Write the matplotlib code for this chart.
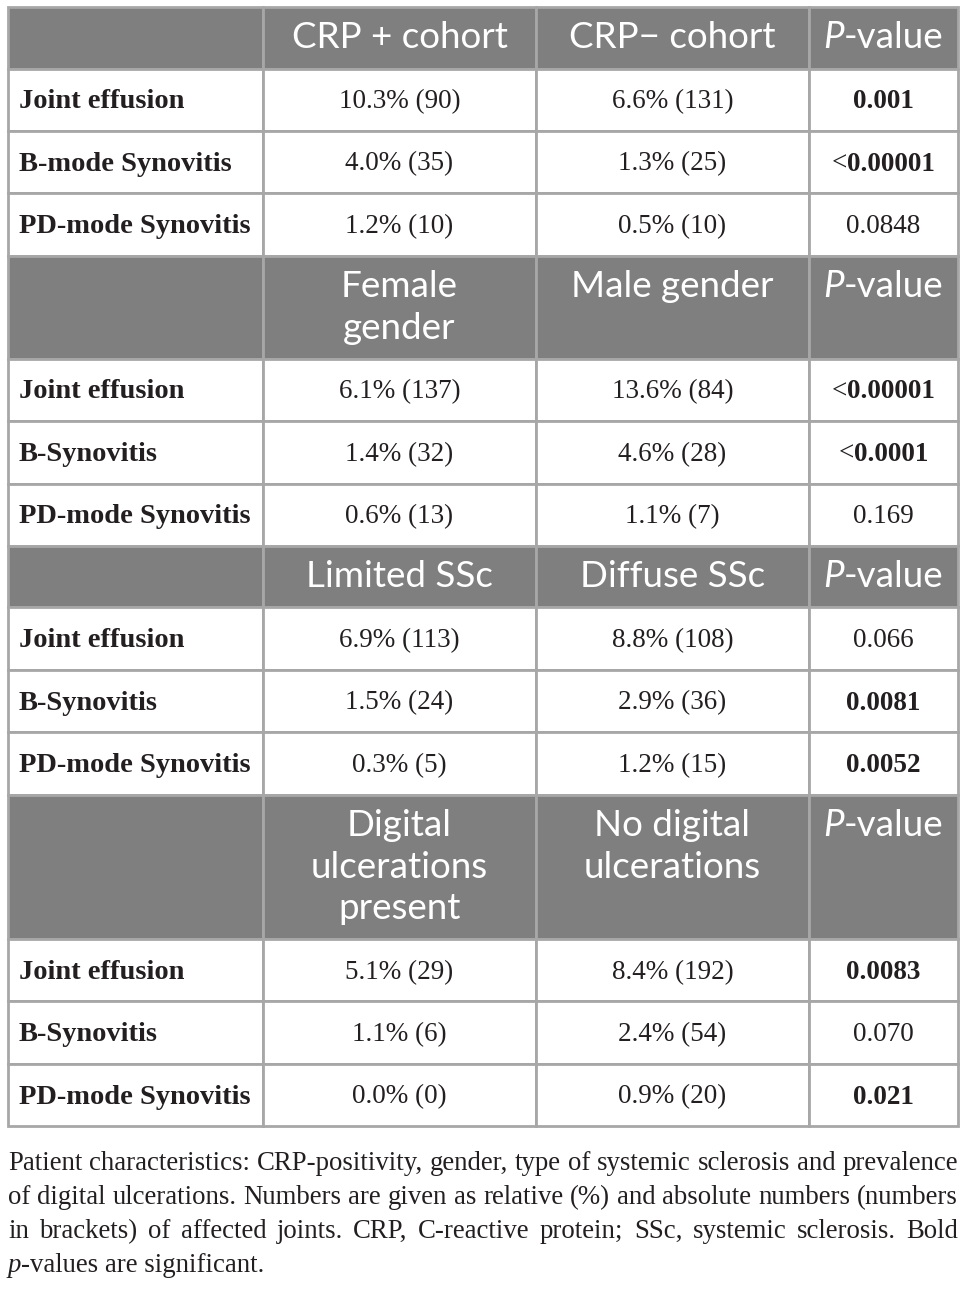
import matplotlib
matplotlib.use("Agg")
import matplotlib.pyplot as plt
import matplotlib.patches

# ---- table content ----
group_headers = [["CRP + cohort", "CRP\u2212 cohort"],
                 ["Female\ngender", "Male gender"],
                 ["Limited SSc", "Diffuse SSc"],
                 ["Digital\nulcerations\npresent", "No digital\nulcerations"]]
row_labels = [["Joint effusion", "B-mode Synovitis", "PD-mode Synovitis"],
              ["Joint effusion", "B-Synovitis", "PD-mode Synovitis"],
              ["Joint effusion", "B-Synovitis", "PD-mode Synovitis"],
              ["Joint effusion", "B-Synovitis", "PD-mode Synovitis"]]
col1_values = [["10.3% (90)", "4.0% (35)", "1.2% (10)"],
               ["6.1% (137)", "1.4% (32)", "0.6% (13)"],
               ["6.9% (113)", "1.5% (24)", "0.3% (5)"],
               ["5.1% (29)", "1.1% (6)", "0.0% (0)"]]
col2_values = [["6.6% (131)", "1.3% (25)", "0.5% (10)"],
               ["13.6% (84)", "4.6% (28)", "1.1% (7)"],
               ["8.8% (108)", "2.9% (36)", "1.2% (15)"],
               ["8.4% (192)", "2.4% (54)", "0.9% (20)"]]
p_values = [["0.001", "<0.00001", "0.0848"],
            ["<0.00001", "<0.0001", "0.169"],
            ["0.066", "0.0081", "0.0052"],
            ["0.0083", "0.070", "0.021"]]
p_bold = [[True, True, False],
          [True, True, False],
          [False, True, True],
          [True, False, True]]
caption_lines = [
    "Patient characteristics: CRP-positivity, gender, type of systemic sclerosis and prevalence",
    "of digital ulcerations. Numbers are given as relative (%) and absolute numbers (numbers",
    "in brackets) of affected joints. CRP, C-reactive protein; SSc, systemic sclerosis. Bold",
]

HEAD_BG = "#7f7f7f"
GRID = "#a7a7a7"
INK = "#231f20"
SANS = ["Lato", "DejaVu Sans"]
SERIF = ["Liberation Serif", "DejaVu Serif"]
FS_HEAD = 26.5
FS_BODY = 19.5
FS_LABEL = 20.5

W, H = 966, 1293
fig = plt.figure(figsize=(W / 100, H / 100), dpi=100)
ax = fig.add_axes([0, 0, 1, 1])
ax.set_xlim(0, W)
ax.set_ylim(H, 0)
ax.axis("off")
renderer = fig.canvas.get_renderer()

xs = [8, 263, 536, 809, 958]
row_h = 62.4
line_h = 41.5


def draw_runs(x, y, runs, ha="center", **kw):
    """draw pieces of text side by side (mixed weight / style)"""
    texts = [ax.text(0, y, s, va="center", ha="left", **kw, **p) for s, p in runs]
    widths = [t.get_window_extent(renderer).width for t in texts]
    x0 = x - sum(widths) / 2 if ha == "center" else x
    for t, w in zip(texts, widths):
        t.set_x(x0)
        x0 += w


def cell(x0, x1, y0, h, fc):
    ax.add_patch(matplotlib.patches.Rectangle((x0, y0), x1 - x0, h, facecolor=fc,
                                              edgecolor=GRID, lw=2.0))


y = 7
for g in range(4):
    heads = group_headers[g]
    nlines = max(s.count("\n") + 1 for s in heads)
    hh = 61.5 + line_h * (nlines - 1)
    for c in range(4):
        cell(xs[c], xs[c + 1], y, hh, HEAD_BG)
    for c, s in enumerate(heads):
        cx = (xs[c + 1] + xs[c + 2]) / 2
        for k, ln in enumerate(s.split("\n")):
            ax.text(cx, y + 31 + k * line_h, ln, ha="center", va="center",
                    color="white", fontsize=FS_HEAD, family=SANS)
    draw_runs((xs[3] + xs[4]) / 2, y + 31,
              [("P", {"style": "italic"}), ("-value", {})],
              color="white", fontsize=FS_HEAD, family=SANS)
    y += hh

    for r in range(3):
        for c in range(4):
            cell(xs[c], xs[c + 1], y, row_h, "white")
        cy = y + row_h / 2 + 2
        ax.text(xs[0] + 11, cy, row_labels[g][r], ha="left", va="center",
                color=INK, fontsize=FS_LABEL, weight="bold", family=SERIF)
        ax.text((xs[1] + xs[2]) / 2, cy, col1_values[g][r], ha="center", va="center",
                color=INK, fontsize=FS_BODY, family=SERIF)
        ax.text((xs[2] + xs[3]) / 2, cy, col2_values[g][r], ha="center", va="center",
                color=INK, fontsize=FS_BODY, family=SERIF)
        pv = p_values[g][r]
        w = "bold" if p_bold[g][r] else "normal"
        if pv.startswith("<"):
            runs = [("<", {}), (pv[1:], {"weight": w})]
        else:
            runs = [(pv, {"weight": w})]
        draw_runs((xs[3] + xs[4]) / 2, cy, runs, color=INK, fontsize=FS_BODY, family=SERIF)
        y += row_h

# caption: size fitted so the first line fills the width, then justified
probe = ax.text(0, 0, caption_lines[0], fontsize=17, family=SERIF)
fs_cap = 17 * (xs[4] - xs[0]) / probe.get_window_extent(renderer).width
probe.remove()

cap_y = 1163
cap_pitch = 34.3
for i, ln in enumerate(caption_lines):
    words = ln.split(" ")
    texts = [ax.text(0, cap_y + i * cap_pitch, wd, ha="left", va="center",
                     color=INK, fontsize=fs_cap, family=SERIF) for wd in words]
    widths = [t.get_window_extent(renderer).width for t in texts]
    gap = (xs[4] - xs[0] - sum(widths)) / (len(words) - 1)
    x0 = xs[0]
    for t, wd in zip(texts, widths):
        t.set_x(x0)
        x0 += wd + gap
draw_runs(xs[0], cap_y + 3 * cap_pitch,
          [("p", {"style": "italic"}), ("-values are significant.", {})],
          ha="left", color=INK, fontsize=fs_cap, family=SERIF)

fig.savefig("out.png", dpi=100)
